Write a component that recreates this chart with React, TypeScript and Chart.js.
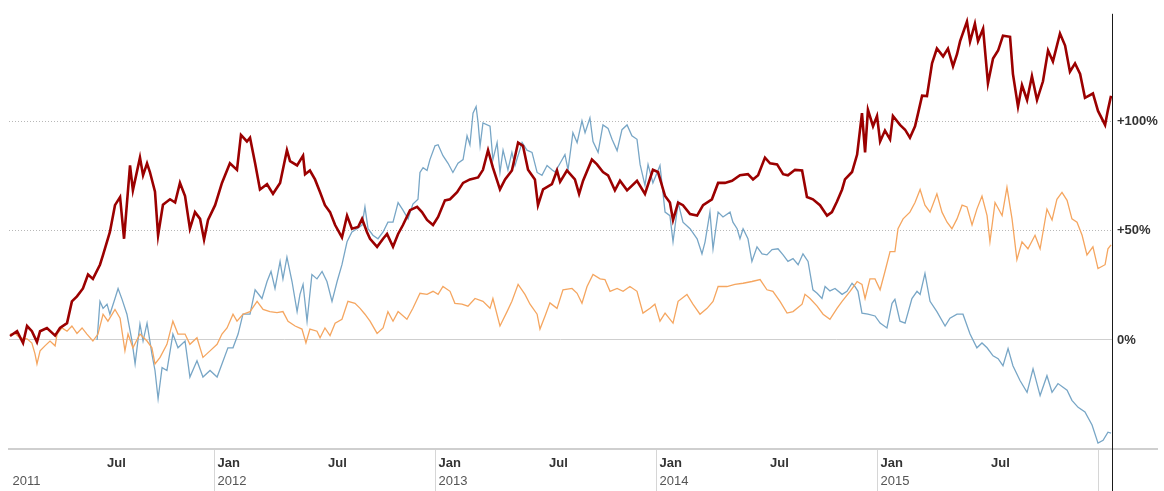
import React, { useEffect, useRef } from "react";
import { Chart, registerables } from "chart.js";

Chart.register(...registerables);

// ---- x positions are decimal years ----
const X_MIN = 2011.0724;
const X_MAX = 2016.0633;

const redYears = [
  2011.077, 2011.109, 2011.136, 2011.154, 2011.176, 2011.199, 2011.213, 2011.244, 2011.281, 2011.303,
  2011.335, 2011.357, 2011.380, 2011.407, 2011.430, 2011.452, 2011.484, 2011.498, 2011.529, 2011.552,
  2011.575, 2011.593, 2011.620, 2011.633, 2011.665, 2011.679, 2011.697, 2011.710, 2011.733, 2011.747,
  2011.769, 2011.801, 2011.824, 2011.846, 2011.869, 2011.891, 2011.914, 2011.937, 2011.955, 2011.973,
  2012.005, 2012.036, 2012.072, 2012.104, 2012.122, 2012.149, 2012.163, 2012.186, 2012.208, 2012.240,
  2012.267, 2012.299, 2012.330, 2012.344, 2012.376, 2012.403, 2012.412, 2012.434, 2012.457, 2012.480,
  2012.502, 2012.525, 2012.548, 2012.579, 2012.602, 2012.624, 2012.652, 2012.670, 2012.692, 2012.706,
  2012.738, 2012.765, 2012.783, 2012.810, 2012.833, 2012.855, 2012.887, 2012.919, 2012.941, 2012.964,
  2012.991, 2013.014, 2013.045, 2013.068, 2013.100, 2013.127, 2013.158, 2013.195, 2013.217, 2013.240,
  2013.262, 2013.294, 2013.317, 2013.348, 2013.376, 2013.398, 2013.421, 2013.452, 2013.466, 2013.489,
  2013.529, 2013.552, 2013.566, 2013.597, 2013.633, 2013.652, 2013.670, 2013.710, 2013.733, 2013.760,
  2013.783, 2013.814, 2013.837, 2013.869, 2013.914, 2013.950, 2013.986, 2014.009, 2014.041, 2014.063,
  2014.077, 2014.100, 2014.122, 2014.154, 2014.186, 2014.213, 2014.253, 2014.281, 2014.312, 2014.344,
  2014.380, 2014.416, 2014.439, 2014.462, 2014.493, 2014.516, 2014.548, 2014.575, 2014.597, 2014.629,
  2014.661, 2014.683, 2014.710, 2014.742, 2014.774, 2014.796, 2014.819, 2014.842, 2014.855, 2014.887,
  2014.910, 2014.932, 2014.946, 2014.959, 2014.982, 2015.000, 2015.014, 2015.036, 2015.059, 2015.072,
  2015.104, 2015.127, 2015.149, 2015.172, 2015.186, 2015.204, 2015.226, 2015.249, 2015.271, 2015.299,
  2015.321, 2015.344, 2015.362, 2015.376, 2015.407, 2015.421, 2015.443, 2015.457, 2015.480, 2015.502,
  2015.525, 2015.548, 2015.570, 2015.602, 2015.615, 2015.638, 2015.656, 2015.679, 2015.701, 2015.724,
  2015.751, 2015.774, 2015.796, 2015.828, 2015.851, 2015.873, 2015.896, 2015.919, 2015.941, 2015.977,
  2016.000, 2016.032, 2016.045, 2016.059,
];
const redChange = [
  1.8, 4, -1.4, 6.4, 4, -1, 4, 5.5, 2, 5.5,
  7.7, 17.7, 20, 23.6, 30, 28, 34.5, 39, 49.5, 61.8,
  65.5, 46.4, 80, 68.6, 83.6, 75.5, 81, 77, 68, 48,
  62, 64.5, 63, 72, 66, 51, 58.6, 55.5, 46, 55,
  61.8, 72, 81, 78, 94, 91, 92.7, 81, 69, 71.4,
  67, 72, 87, 82, 80, 84.5, 76, 77.7, 73.6, 67.7,
  61.8, 58.6, 52.7, 47, 57, 51, 51.8, 55.5, 49.5, 46.4,
  42.7, 46.4, 48.6, 42.7, 48.6, 52.7, 59.5, 61, 58.6, 55,
  52.7, 56.4, 64, 64.5, 67.7, 72, 73.6, 74.5, 78, 87,
  79, 69, 73.6, 77.7, 90.5, 89, 78, 73.6, 61.8, 69,
  71.4, 77.7, 72.5, 77.7, 73.6, 67, 73, 82.7, 80.5, 77,
  75.5, 68.6, 73, 68.6, 73, 67, 78, 77, 66, 63,
  55, 63, 61.8, 57.7, 57, 61.8, 64.5, 72, 72, 73,
  75.5, 76, 73.6, 75.5, 83.6, 81, 80.5, 76, 75.5, 78,
  77.7, 65.5, 64.5, 61.8, 57, 58.6, 63.5, 69, 73.6, 77,
  85, 104, 86, 105.5, 98, 102.7, 91, 96, 92, 102.7,
  98.6, 96.4, 92.7, 98, 104, 112, 111.8, 126.8, 133.6, 130,
  133.6, 125.5, 131, 137, 146, 136.8, 145, 137, 142.7, 117.7,
  129, 132.7, 139.5, 139, 122, 107, 116.8, 110, 121, 110,
  118.6, 132.7, 127.7, 140.5, 135, 123, 126.8, 122, 111, 113,
  105, 98.6, 105.5, 112,
];

const orangeYears = [
  2011.077, 2011.100, 2011.122, 2011.154, 2011.176, 2011.190, 2011.199, 2011.213, 2011.235, 2011.258,
  2011.281, 2011.290, 2011.312, 2011.335, 2011.357, 2011.380, 2011.403, 2011.425, 2011.452, 2011.475,
  2011.498, 2011.520, 2011.552, 2011.575, 2011.597, 2011.611, 2011.633, 2011.665, 2011.697, 2011.719,
  2011.733, 2011.756, 2011.787, 2011.814, 2011.837, 2011.869, 2011.891, 2011.923, 2011.950, 2011.982,
  2012.014, 2012.036, 2012.059, 2012.086, 2012.104, 2012.131, 2012.163, 2012.195, 2012.222, 2012.253,
  2012.285, 2012.312, 2012.335, 2012.367, 2012.398, 2012.416, 2012.434, 2012.466, 2012.480, 2012.502,
  2012.525, 2012.548, 2012.579, 2012.606, 2012.638, 2012.661, 2012.683, 2012.706, 2012.738, 2012.765,
  2012.787, 2012.810, 2012.833, 2012.873, 2012.900, 2012.932, 2012.964, 2012.991, 2013.014, 2013.036,
  2013.068, 2013.090, 2013.122, 2013.149, 2013.181, 2013.217, 2013.249, 2013.262, 2013.294, 2013.326,
  2013.348, 2013.376, 2013.407, 2013.430, 2013.462, 2013.475, 2013.498, 2013.520, 2013.552, 2013.579,
  2013.620, 2013.643, 2013.665, 2013.688, 2013.715, 2013.747, 2013.769, 2013.792, 2013.824, 2013.851,
  2013.882, 2013.914, 2013.941, 2013.973, 2013.995, 2014.018, 2014.041, 2014.077, 2014.100, 2014.140,
  2014.167, 2014.199, 2014.231, 2014.258, 2014.281, 2014.321, 2014.357, 2014.394, 2014.434, 2014.471,
  2014.502, 2014.529, 2014.561, 2014.593, 2014.620, 2014.661, 2014.674, 2014.697, 2014.729, 2014.756,
  2014.787, 2014.819, 2014.842, 2014.878, 2014.910, 2014.932, 2014.946, 2014.968, 2014.991, 2015.014,
  2015.036, 2015.059, 2015.081, 2015.095, 2015.118, 2015.149, 2015.172, 2015.195, 2015.217, 2015.240,
  2015.271, 2015.294, 2015.317, 2015.339, 2015.362, 2015.385, 2015.407, 2015.430, 2015.452, 2015.475,
  2015.498, 2015.511, 2015.534, 2015.566, 2015.588, 2015.611, 2015.633, 2015.656, 2015.683, 2015.715,
  2015.738, 2015.769, 2015.792, 2015.814, 2015.837, 2015.860, 2015.882, 2015.905, 2015.928, 2015.950,
  2015.977, 2016.000, 2016.032, 2016.045, 2016.059,
];
const orangeChange = [
  2.7, 3, 1, 0.5, -1.4, -6.4, -11, -5, -2.7, -0.5,
  -2.7, 2.7, 5.5, 4, 6.4, 3, 5.5, 2.7, -0.5, 2.7,
  11.8, 8.6, 14, 10, -5, 2.7, -3.6, 2.7, -0.5, -3.6,
  -11, -8, -2, 8.6, 2.7, 2.7, -2, 1, -8, -5,
  -2, 2.7, 5.5, 11.8, 8.6, 11.8, 13, 17.7, 14, 13,
  12.5, 13, 8.6, 6.4, 5, -1.4, 5, 4, 1, 5.5,
  2, 7.7, 9.5, 17.7, 16.8, 14.5, 11.8, 8.6, 3, 5.5,
  13, 8.6, 13, 9.5, 14.5, 21.4, 20.9, 22.3, 20.9, 24.5,
  22.3, 16.8, 16.4, 15.5, 19, 17.7, 14.5, 19, 6.4, 13,
  17.7, 25.5, 20.9, 16.4, 11.8, 5, 11, 17, 14.5, 23,
  23.6, 21.4, 16.8, 24.5, 30, 28, 27.7, 22.3, 23.6, 22.3,
  24.5, 22.3, 12.3, 14.5, 16.4, 8.6, 12.3, 7.7, 17.7, 20.9,
  16.4, 11.8, 14.5, 17.7, 24.5, 24.5, 25.5, 26, 26.8, 27.7,
  23, 22.3, 17.7, 12.3, 13, 16.4, 20.9, 19, 15.5, 11.8,
  9.5, 14.5, 17.7, 22.3, 26.8, 25.5, 19, 28, 28, 23,
  31.4, 40.5, 40.5, 51, 55.5, 58.6, 63, 69, 61.8, 58.6,
  67, 58.6, 54, 51, 55.5, 61.8, 61, 52.7, 60, 66,
  57, 45, 63, 57, 70, 55.5, 36.8, 45, 41.8, 48,
  41.8, 60, 55, 64.5, 67.7, 64, 55.5, 54, 48, 39,
  42.7, 32.7, 34.5, 41.8, 43.6,
];

const blueYears = [
  2011.471, 2011.484, 2011.498, 2011.516, 2011.529, 2011.552, 2011.566, 2011.584, 2011.606, 2011.629,
  2011.643, 2011.665, 2011.679, 2011.697, 2011.719, 2011.733, 2011.747, 2011.765, 2011.787, 2011.814,
  2011.837, 2011.869, 2011.891, 2011.923, 2011.950, 2011.982, 2012.014, 2012.036, 2012.063, 2012.086,
  2012.109, 2012.131, 2012.163, 2012.186, 2012.217, 2012.240, 2012.258, 2012.276, 2012.299, 2012.312,
  2012.330, 2012.353, 2012.376, 2012.389, 2012.403, 2012.421, 2012.443, 2012.466, 2012.489, 2012.511,
  2012.534, 2012.557, 2012.579, 2012.602, 2012.624, 2012.647, 2012.670, 2012.683, 2012.697, 2012.719,
  2012.742, 2012.765, 2012.787, 2012.810, 2012.833, 2012.855, 2012.878, 2012.900, 2012.923, 2012.932,
  2012.946, 2012.964, 2012.977, 2013.000, 2013.014, 2013.036, 2013.059, 2013.081, 2013.104, 2013.127,
  2013.145, 2013.158, 2013.172, 2013.186, 2013.195, 2013.204, 2013.217, 2013.249, 2013.262, 2013.281,
  2013.294, 2013.308, 2013.330, 2013.348, 2013.362, 2013.394, 2013.416, 2013.439, 2013.462, 2013.484,
  2013.507, 2013.529, 2013.543, 2013.566, 2013.588, 2013.602, 2013.624, 2013.643, 2013.665, 2013.679,
  2013.701, 2013.715, 2013.738, 2013.760, 2013.783, 2013.801, 2013.824, 2013.846, 2013.869, 2013.891,
  2013.914, 2013.928, 2013.950, 2013.964, 2013.986, 2014.018, 2014.041, 2014.063, 2014.077, 2014.100,
  2014.122, 2014.154, 2014.186, 2014.208, 2014.222, 2014.244, 2014.258, 2014.281, 2014.303, 2014.335,
  2014.348, 2014.367, 2014.380, 2014.394, 2014.416, 2014.434, 2014.457, 2014.480, 2014.502, 2014.525,
  2014.552, 2014.575, 2014.597, 2014.620, 2014.643, 2014.665, 2014.688, 2014.710, 2014.729, 2014.751,
  2014.765, 2014.787, 2014.810, 2014.842, 2014.864, 2014.887, 2014.900, 2014.914, 2014.932, 2014.959,
  2014.991, 2015.014, 2015.045, 2015.068, 2015.081, 2015.104, 2015.127, 2015.158, 2015.181, 2015.195,
  2015.217, 2015.240, 2015.271, 2015.308, 2015.330, 2015.362, 2015.389, 2015.421, 2015.452, 2015.475,
  2015.498, 2015.525, 2015.548, 2015.570, 2015.593, 2015.615, 2015.647, 2015.679, 2015.706, 2015.738,
  2015.769, 2015.792, 2015.819, 2015.860, 2015.882, 2015.910, 2015.941, 2015.973, 2016.000, 2016.023,
  2016.045, 2016.059,
];
const blueChange = [
  0, 17.7, 14.5, 16.4, 11.8, 19, 23.6, 18.6, 11.8, -0.5,
  -11, 7.3, -0.5, 7.7, -6.4, -14, -27, -12.7, -14, 2.7,
  -3.6, -0.5, -17, -9.5, -17, -14, -17, -11, -3.6, -3.6,
  2.7, 11.8, 11.8, 23, 19, 26.8, 31.4, 23.6, 36, 28,
  38, 26.8, 13, 20.9, 25.5, 8.6, 30, 28, 31.4, 26.8,
  17.7, 26.8, 34.5, 45, 49.5, 51, 52.7, 61, 51, 48,
  46.4, 49.5, 54, 54, 63, 59.5, 55.5, 62.3, 64.5, 76.8,
  79, 77.7, 82.7, 89, 89.5, 84.5, 81, 76.8, 81, 82.7,
  93.6, 89.5, 104, 107, 99.5, 89, 99.5, 98, 82.7, 90.5,
  76.8, 87, 78, 86, 80, 90.5, 87, 86, 76.8, 75.5,
  80, 78, 77, 81, 85, 78, 95, 90.5, 100.5, 95,
  101.8, 91, 86, 98.6, 97, 92, 86.8, 96.4, 98.6, 93.6,
  92, 80.5, 70.9, 80.5, 72, 80, 58.6, 57, 45, 63,
  54, 51, 46.4, 39.5, 45, 58.6, 41.8, 58.6, 56.4, 58.6,
  54, 51, 46.4, 51, 46.4, 36, 42.7, 39.5, 39, 41.4,
  41.8, 39, 36, 37.3, 34.5, 39.5, 36, 23, 21.4, 19,
  24.5, 22.5, 23.6, 20.9, 22.3, 26, 24.5, 22.3, 12.3, 11.8,
  11, 7.7, 5.5, 16.8, 18.6, 8.6, 7.7, 19, 22.3, 20.9,
  30.5, 17.7, 13, 6.4, 10, 11.8, 11.8, 2.7, -3.6, -1.4,
  -3.6, -7.3, -8.6, -11.8, -4, -11.8, -18.6, -24, -13.2, -25.5,
  -16.4, -24, -20, -23, -27.7, -30.9, -33, -39, -47.3, -46,
  -42.3, -42.7,
];

// ---- axis ticks ----
const monthTickValues = [2011.5, 2012, 2012.5, 2013, 2013.5, 2014, 2014.5, 2015, 2015.5, 2016];
const monthTickLabels = ["Jul", "Jan", "Jul", "Jan", "Jul", "Jan", "Jul", "Jan", "Jul", ""];
const yearTickValues = [X_MIN, 2012, 2013, 2014, 2015, 2016];
const yearTickLabels = ["2011", "2012", "2013", "2014", "2015", ""];
const percentTickValues = [-50, 0, 50, 100, 150];
const percentTickLabels = ["", "0%", "+50%", "+100%", ""];

const FONT = "Arial, 'Liberation Sans', Helvetica, sans-serif";

const toPoints = (xs: number[], ys: number[]) => xs.map((x, i) => ({ x, y: ys[i] }));

const framePlugin = {
  id: "frameLines",
  afterDraw(chart: any) {
    const { ctx, chartArea } = chart;
    ctx.save();
    // extend the bottom axis line to the right
    ctx.strokeStyle = "#cfcfcf";
    ctx.lineWidth = 2;
    ctx.beginPath();
    ctx.moveTo(chartArea.right, chartArea.bottom);
    ctx.lineTo(chart.width - 6, chartArea.bottom);
    ctx.stroke();
    // vertical black line at the right edge of the plot
    ctx.strokeStyle = "#1a1a1a";
    ctx.lineWidth = 1;
    ctx.beginPath();
    ctx.moveTo(Math.round(chartArea.right) + 0.5, chartArea.top + 1);
    ctx.lineTo(Math.round(chartArea.right) + 0.5, chart.height);
    ctx.stroke();
    ctx.restore();
  },
};

export default function App() {
  const canvasRef = useRef<HTMLCanvasElement | null>(null);

  useEffect(() => {
    if (!canvasRef.current) return;
    const chart = new Chart(canvasRef.current, {
      type: "line",
      data: {
        datasets: [
          {
            label: "Red",
            data: toPoints(redYears, redChange),
            borderColor: "#9b0000",
            borderWidth: 2.6,
            pointRadius: 0,
            tension: 0,
          },
          {
            label: "Orange",
            data: toPoints(orangeYears, orangeChange),
            borderColor: "#f5a660",
            borderWidth: 1.3,
            pointRadius: 0,
            tension: 0,
          },
          {
            label: "Blue",
            data: toPoints(blueYears, blueChange),
            borderColor: "#78a6c6",
            borderWidth: 1.3,
            pointRadius: 0,
            tension: 0,
          },
        ],
      },
      options: {
        animation: false,
        responsive: false,
        devicePixelRatio: 1,
        layout: { padding: { left: 9, top: 9, right: 0, bottom: 0 } },
        plugins: { legend: { display: false }, tooltip: { enabled: false } },
        scales: {
          x: {
            type: "linear",
            position: "bottom",
            weight: 0,
            min: X_MIN,
            max: X_MAX,
            bounds: "data",
            afterBuildTicks: (s: any) => {
              s.ticks = monthTickValues.map((v) => ({ value: v }));
            },
            afterFit: (s: any) => {
              s.height = 20;
            },
            ticks: {
              autoSkip: false,
              maxRotation: 0,
              minRotation: 0,
              align: "start",
              padding: -13.5,
              color: "#333333",
              font: { family: FONT, size: 13, weight: "bold" },
              callback: (_v: any, i: number) => (monthTickLabels[i] ? " " + monthTickLabels[i] : ""),
            },
            grid: {
              drawOnChartArea: false,
              drawTicks: true,
              tickLength: 20,
              tickWidth: 1,
              tickColor: (ctx: any) =>
                ctx.tick && Number.isInteger(ctx.tick.value) ? "#d6d6d6" : "rgba(0,0,0,0)",
            },
            border: { display: true, color: "#cfcfcf", width: 2 },
          },
          xYear: {
            type: "linear",
            position: "bottom",
            weight: 1,
            min: X_MIN,
            max: X_MAX,
            bounds: "data",
            afterBuildTicks: (s: any) => {
              s.ticks = yearTickValues.map((v) => ({ value: v }));
            },
            afterFit: (s: any) => {
              s.height = 22;
            },
            ticks: {
              autoSkip: false,
              maxRotation: 0,
              minRotation: 0,
              align: "start",
              padding: -17.5,
              color: "#555555",
              font: { family: FONT, size: 13 },
              callback: (_v: any, i: number) => (yearTickLabels[i] ? " " + yearTickLabels[i] : ""),
            },
            grid: {
              drawOnChartArea: false,
              drawTicks: true,
              tickLength: 22,
              tickWidth: 1,
              tickColor: (ctx: any) =>
                ctx.tick && Number.isInteger(ctx.tick.value) ? "#d6d6d6" : "rgba(0,0,0,0)",
            },
            border: { display: false },
          },
          y: {
            type: "linear",
            position: "right",
            min: -50,
            max: 150,
            afterBuildTicks: (s: any) => {
              s.ticks = percentTickValues.map((v) => ({ value: v }));
            },
            afterFit: (s: any) => {
              s.width = 52;
            },
            ticks: {
              padding: 5,
              color: "#333333",
              font: { family: FONT, size: 13, weight: "bold" },
              callback: (_v: any, i: number) => percentTickLabels[i],
            },
            grid: {
              drawTicks: false,
              lineWidth: 1,
              color: (ctx: any) => {
                const v = ctx.tick ? ctx.tick.value : null;
                if (v === 0) return "#cfcfcf";
                if (v === 50 || v === 100) return "#b8b8b8";
                return "rgba(0,0,0,0)";
              },
            },
            border: {
              display: false,
              dash: (ctx: any) => {
                const v = ctx.tick ? ctx.tick.value : null;
                return v === 50 || v === 100 ? [1, 2] : [];
              },
            },
          },
        },
      } as any,
      plugins: [framePlugin],
    });
    return () => chart.destroy();
  }, []);

  return (
    <div style={{ position: "absolute", left: 0, top: 0, width: 1164, height: 491, background: "#fff" }}>
      <canvas ref={canvasRef} width={1164} height={491} style={{ display: "block", width: 1164, height: 491 }} />
    </div>
  );
}
